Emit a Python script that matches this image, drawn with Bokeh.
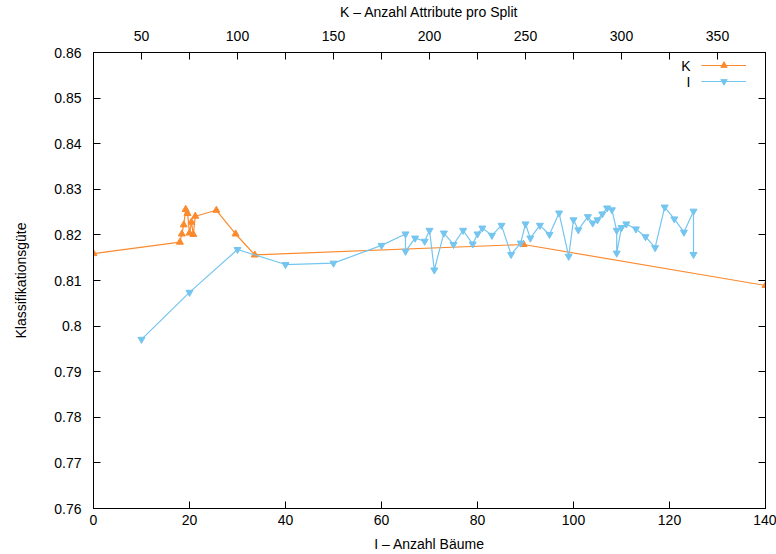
from bokeh.plotting import figure
from bokeh.models import (Range1d, LinearAxis, FixedTicker, CustomJSTickFormatter,
                          Legend, LegendItem, Label)
from bokeh.embed import file_html
from bokeh.resources import INLINE

# ---- data ----
k_vals = [25, 70, 71, 72, 73, 74, 75, 76, 77, 78, 89, 99, 109, 249, 375]
k_acc = [0.8159, 0.8184, 0.8202, 0.8222, 0.8256, 0.8247, 0.8204, 0.8228, 0.8201,
         0.8241, 0.8254, 0.8202, 0.8156, 0.8179, 0.8089]

i_vals = [10, 20, 30, 40, 50, 60, 65, 65, 67, 69, 70, 71, 73, 75, 77, 79, 80, 81,
          83, 85, 87, 89, 90, 91, 93, 95, 97, 99, 100, 101, 103, 104, 105, 106,
          107, 108, 109, 109, 110, 111, 113, 115, 117, 119, 121, 123, 125, 125]
i_acc = [0.7971, 0.8074, 0.8168, 0.8135, 0.8138, 0.8177, 0.8202, 0.8164, 0.8193,
         0.8186, 0.8210, 0.8123, 0.8204, 0.8179, 0.8210, 0.8180, 0.8202, 0.8215,
         0.8199, 0.8221, 0.8157, 0.8182, 0.8224, 0.8193, 0.8221, 0.8201, 0.8248,
         0.8153, 0.8233, 0.8211, 0.8240, 0.8226, 0.8233, 0.8246, 0.8259, 0.8255,
         0.8210, 0.8160, 0.8216, 0.8224, 0.8213, 0.8196, 0.8172, 0.8261, 0.8235,
         0.8206, 0.8252, 0.8157]

y_ticks = [0.76, 0.77, 0.78, 0.79, 0.80, 0.81, 0.82, 0.83, 0.84, 0.85, 0.86]
i_ticks = [0, 20, 40, 60, 80, 100, 120, 140]
k_ticks = [50, 100, 150, 200, 250, 300, 350]
k_minor = [25, 75, 125, 175, 225, 275, 325, 375]
series_names = ["K", "I"]

ORANGE = "#fb8a2e"
BLUE = "#74c5ef"
FONT = "Liberation Sans"
FS = "14px"

p = figure(width=776, height=554, output_backend="svg", toolbar_location=None,
           x_range=Range1d(0, 140), y_range=Range1d(0.76, 0.86),
           min_border_left=93, min_border_right=11, min_border_top=52,
           min_border_bottom=46, x_axis_location=None, y_axis_location=None)
p.extra_x_ranges = {"k": Range1d(25, 375)}
p.xgrid.visible = False
p.ygrid.visible = False
p.outline_line_color = "black"
p.outline_line_width = 1
p.background_fill_color = "white"
p.border_fill_color = "white"

fmt = CustomJSTickFormatter(code="return (Math.round(tick*100)/100).toString();")
blank = CustomJSTickFormatter(code="return '';")

def style(ax):
    ax.axis_line_color = "black"
    ax.major_tick_line_color = "black"
    ax.minor_tick_line_color = "black"
    ax.major_tick_in = 7
    ax.major_tick_out = 0
    ax.minor_tick_in = 7
    ax.minor_tick_out = 0
    ax.major_label_text_font = FONT
    ax.major_label_text_font_size = FS
    ax.major_label_text_color = "black"
    ax.axis_label_text_font = FONT
    ax.axis_label_text_font_size = FS
    ax.axis_label_text_font_style = "normal"
    ax.axis_label_text_color = "black"

left = LinearAxis(ticker=FixedTicker(ticks=y_ticks, minor_ticks=[]), formatter=fmt,
                  axis_label="Klassifikationsgüte")
style(left)
left.major_label_standoff = 12
left.axis_label_standoff = 22
p.add_layout(left, "left")

right = LinearAxis(ticker=FixedTicker(ticks=y_ticks, minor_ticks=[]), formatter=blank)
style(right)
right.major_label_standoff = 0
p.add_layout(right, "right")

bottom = LinearAxis(ticker=FixedTicker(ticks=i_ticks, minor_ticks=[]),
                    axis_label="I – Anzahl Bäume")
style(bottom)
bottom.major_label_standoff = 6
bottom.axis_label_standoff = 8
p.add_layout(bottom, "below")

top = LinearAxis(x_range_name="k", ticker=FixedTicker(ticks=k_ticks, minor_ticks=k_minor),
                 axis_label="K – Anzahl Attribute pro Split")
style(top)
top.major_label_standoff = 12
top.axis_label_standoff = 8
p.add_layout(top, "above")

kl = p.line(k_vals, k_acc, x_range_name="k", line_color=ORANGE, line_width=1.2)
ks = p.scatter(k_vals, k_acc, x_range_name="k", marker="triangle", size=7,
               fill_color=ORANGE, line_color=ORANGE)
il = p.line(i_vals, i_acc, line_color=BLUE, line_width=1.2)
iS = p.scatter(i_vals, i_acc, marker="inverted_triangle", size=7,
               fill_color=BLUE, line_color=BLUE)

legend = Legend(items=[LegendItem(label="", renderers=[kl, ks]),
                       LegendItem(label="", renderers=[il, iS])],
                location=(608, 419), glyph_width=45, glyph_height=16,
                label_height=16, label_width=0, label_standoff=0, spacing=0,
                padding=0, margin=0, border_line_color=None,
                background_fill_alpha=0, label_text_font=FONT,
                label_text_font_size=FS)
p.add_layout(legend, "center")

for txt, yy in zip(series_names, (443, 427)):
    p.add_layout(Label(x=597, y=yy, x_units="screen", y_units="screen", text=txt,
                       text_align="right", text_baseline="middle",
                       text_font=FONT, text_font_size=FS, text_color="black"))

open("out.html", "w").write(file_html(p, INLINE))
